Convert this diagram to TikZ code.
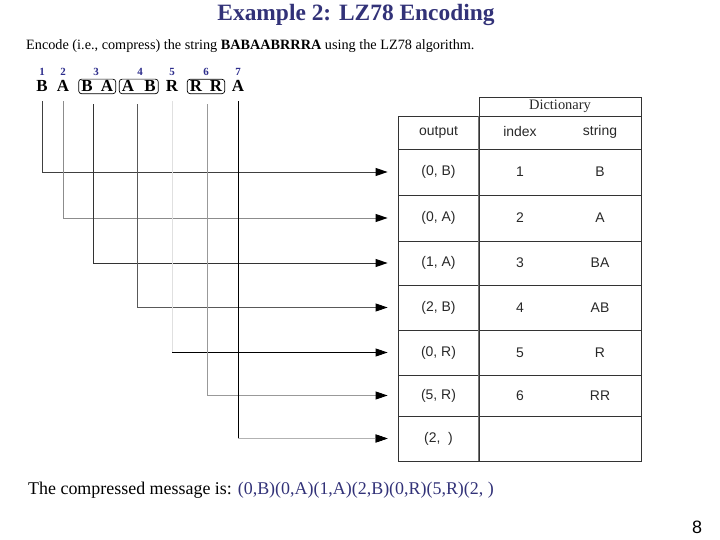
\documentclass[tikz,border=0pt]{standalone}
\usepackage{fontspec}
\setmainfont{Liberation Serif}
\newfontfamily\arialf{Liberation Sans}
\usetikzlibrary{arrows.meta,fit}
\definecolor{navy}{RGB}{50,50,120}
\definecolor{numblue}{RGB}{45,45,140}
\definecolor{tabtext}{RGB}{40,40,40}
\tikzset{
  letter/.style={font=\fontsize{17}{18}\selectfont\bfseries, inner sep=0pt, anchor=base},
  num/.style={font=\fontsize{11}{12}\selectfont\bfseries, text=numblue, inner sep=0pt},
  pairbox/.style={draw, rounded corners=3bp, line width=0.7bp, inner xsep=2.5bp, inner ysep=1.5bp},
  cell/.style={draw=black!80, line width=0.8bp, minimum width=81bp, inner sep=0pt, font=\arialf\fontsize{14}{15}\selectfont, text=tabtext},
  tabtxt/.style={font=\arialf\fontsize{14}{15}\selectfont, text=tabtext, inner sep=0pt},
  tip/.style={-{Triangle[length=12bp,width=8bp,color=black]}},
  conn/.style={line width=0.9bp, tip, shorten >=10bp, shorten <=9bp},
}
\begin{document}
\begin{tikzpicture}[x=1bp,y=-1bp]
\useasboundingbox (0,0) rectangle (720,540);
% title and intro
\node[font=\fontsize{23.5}{26}\selectfont\bfseries, text=navy] (title) at (356,15) {Example 2: LZ78 Encoding};
\node[font=\fontsize{14.3}{16}\selectfont, anchor=west, inner sep=0pt] (intro) at (26,46) {Encode (i.e., compress) the string \textbf{BABAABRRRA} using the LZ78 algorithm.};
% position numbers
\node[num] (n1) at (42,72) {1};
\node[num] (n2) at (63,72) {2};
\node[num] (n3) at (96,72) {3};
\node[num] (n4) at (140,72) {4};
\node[num] (n5) at (172,72) {5};
\node[num] (n6) at (206,72) {6};
\node[num] (n7) at (238,72) {7};
% letters
\node[letter] (l1) at (42,92) {B};
\node[letter] (l2) at (63,92) {A};
\node[letter] (l3a) at (87,92) {B};
\node[letter] (l3b) at (107,92) {A};
\node[letter] (l4a) at (128,92) {A};
\node[letter] (l4b) at (150,92) {B};
\node[letter] (l5) at (172,92) {R};
\node[letter] (l6a) at (196,92) {R};
\node[letter] (l6b) at (216,92) {R};
\node[letter] (l7) at (238,92) {A};
\node[pairbox, fit=(l3a)(l3b)] (b3) {};
\node[pairbox, fit=(l4a)(l4b)] (b4) {};
\node[pairbox, fit=(l6a)(l6b)] (b6) {};
% table header
\node[draw=black!80, line width=0.8bp, minimum width=162bp, minimum height=19bp, inner sep=0pt, font=\fontsize{14.5}{15}\selectfont, text=tabtext] (dict) at (560,106.5) {Dictionary};
\node[cell, minimum height=33bp] (hout) at (438.5,132.5) {output};
\node[draw=black!80, line width=0.8bp, minimum width=162bp, minimum height=33bp, inner sep=0pt] (hdict) at (560,132.5) {};
\node[tabtxt] (hidx) at (520,132) {index};
\node[tabtxt] (hstr) at (600,132) {string};
% rows
\node[cell, minimum height=46bp] (o1) at (438.5,172) {(0, B)};
\node[cell, minimum height=46bp] (o2) at (438.5,218) {(0, A)};
\node[cell, minimum height=44bp] (o3) at (438.5,263) {(1, A)};
\node[cell, minimum height=45bp] (o4) at (438.5,307.5) {(2, B)};
\node[cell, minimum height=45bp] (o5) at (438.5,352.5) {(0, R)};
\node[cell, minimum height=41bp] (o6) at (438.5,395.5) {(5, R)};
\node[cell, minimum height=45bp] (o7) at (438.5,438.5) {(2,\ \ )};
\foreach \y/\h/\i/\s [count=\k] in {172/46/1/B, 218/46/2/A, 263/44/3/BA, 307.5/45/4/AB, 352.5/45/5/R, 395.5/41/6/RR, 438.5/45//}{
  \node[draw=black!80, line width=0.8bp, minimum width=162bp, minimum height=\h bp, inner sep=0pt] (d\k) at (560,\y) {};
  \node[tabtxt] (i\k) at (520,\y) {\i};
  \node[tabtxt] (s\k) at (600,\y) {\s};
}
\draw[black!55, line width=1.6bp] (hdict.north west) -- (d7.south west);
% connectors
\draw[conn, draw=black!75] (l1.south) |- (o1.west);
\draw[conn, draw=black!45] (l2.south) |- (o2.west);
\draw[conn, draw=black!80, shorten <=10bp] ([xshift=-4bp]b3.south) |- (o3.west);
\draw[conn, draw=black!65, shorten <=10bp] ([xshift=-1bp]b4.south) |- (o4.west);
\draw[line width=0.9bp, draw=black!12, shorten <=9bp] (l5.south) -- (l5.south |- o5.west);
\draw[line width=0.9bp, draw=black, tip, shorten >=10bp] (l5.south |- o5.west) -- (o5.west);
\draw[conn, draw=black!40, shorten <=10bp] ([xshift=1bp]b6.south) |- (o6.west);
\draw[conn, draw=black] (l7.south) |- (o7.west);
\draw[line width=0.9bp, draw=black!30, tip, shorten >=10bp] (l7.south |- o7.west) -- (o7.west);
% bottom
\node[font=\fontsize{18}{20}\selectfont, anchor=west, inner sep=0pt] (msg) at (28,490) {The compressed message is: \textcolor{navy}{(0,B)(0,A)(1,A)(2,B)(0,R)(5,R)(2, )}};
\node[font=\arialf\fontsize{18}{20}\selectfont] (pg) at (697,527) {8};
\end{tikzpicture}
\end{document}
